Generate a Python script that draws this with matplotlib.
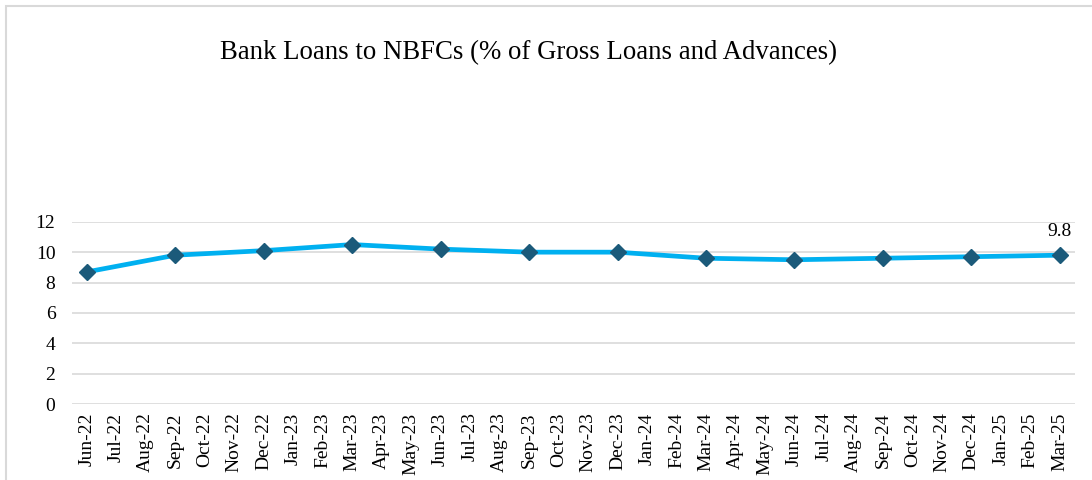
import matplotlib
matplotlib.use('Agg')
import matplotlib.pyplot as plt
from matplotlib.patches import Rectangle

# monthly axis labels, Jun-22 .. Mar-25
months = ['Jun-22', 'Jul-22', 'Aug-22', 'Sep-22', 'Oct-22', 'Nov-22', 'Dec-22',
          'Jan-23', 'Feb-23', 'Mar-23', 'Apr-23', 'May-23', 'Jun-23', 'Jul-23',
          'Aug-23', 'Sep-23', 'Oct-23', 'Nov-23', 'Dec-23', 'Jan-24', 'Feb-24',
          'Mar-24', 'Apr-24', 'May-24', 'Jun-24', 'Jul-24', 'Aug-24', 'Sep-24',
          'Oct-24', 'Nov-24', 'Dec-24', 'Jan-25', 'Feb-25', 'Mar-25']

# quarterly observations
quarters = ['Jun-22', 'Sep-22', 'Dec-22', 'Mar-23', 'Jun-23', 'Sep-23',
            'Dec-23', 'Mar-24', 'Jun-24', 'Sep-24', 'Dec-24', 'Mar-25']
share = [8.7, 9.8, 10.1, 10.5, 10.2, 10.0, 10.0, 9.6, 9.5, 9.6, 9.7, 9.8]

plt.rcParams['font.family'] = ['Liberation Serif', 'DejaVu Serif']

fig = plt.figure(figsize=(10.92, 4.8), dpi=100)
ax = fig.add_axes([0.066, 0.158, 0.918, 0.38])

x = [months.index(q) for q in quarters]
ax.plot(x, share, color='#00B0F0', linewidth=3.4, marker='D', markersize=8,
        markerfacecolor='#1B5A7A', markeredgecolor='#1B5A7A', zorder=3)

# label last point
ax.annotate(f'{share[-1]}', (x[-1], share[-1]), xytext=(0, 11),
            textcoords='offset points', ha='center', va='bottom', fontsize=14)

ax.set_xlim(-0.5, len(months) - 0.5)
ax.set_ylim(0, 12)
ax.set_yticks(range(0, 13, 2))
ax.set_xticks(range(len(months)))
ax.set_xticklabels(months, rotation=90, fontsize=14)
ax.tick_params(axis='y', labelsize=14, length=0, pad=12)
ax.tick_params(axis='x', length=0, pad=6)
ax.grid(axis='y', color='#D9D9D9', linewidth=1.2)
ax.set_axisbelow(True)
for s in ax.spines.values():
    s.set_visible(False)

fig.text(0.484, 0.89, 'Bank Loans to NBFCs (% of Gross Loans and Advances)',
         ha='center', va='center', fontsize=19.3)

# chart frame
fig.patches.append(Rectangle((6 / 1092, -0.02), 1.05, 1 - 6 / 480 + 0.02,
                             transform=fig.transFigure, fill=False,
                             edgecolor='#D9D9D9', linewidth=1.5))

fig.savefig('out.png', dpi=100)
